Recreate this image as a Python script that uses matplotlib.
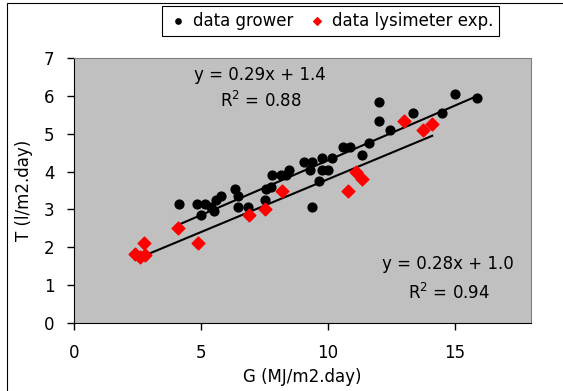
# scatter of transpiration T vs radiation G, grower data and lysimeter data with linear trendlines
import numpy as np
import matplotlib.pyplot as plt
from matplotlib.patches import Rectangle

# data
grower_G = [4.15, 4.85, 5.0, 5.15, 5.4, 5.5, 5.6, 5.8, 6.35, 6.45, 6.45, 6.85,
            7.5, 7.55, 7.75, 7.8, 8.15, 8.35, 8.45, 9.05, 9.3, 9.35, 9.35, 9.65,
            9.75, 9.75, 10.0, 10.15, 10.6, 10.85, 11.35, 11.6, 12.0, 12.0, 12.45,
            13.35, 14.5, 15.0, 15.85]
grower_T = [3.15, 3.15, 2.85, 3.15, 3.05, 2.95, 3.25, 3.35, 3.55, 3.35, 3.05, 3.05,
            3.25, 3.55, 3.6, 3.9, 3.9, 3.9, 4.05, 4.25, 4.05, 4.25, 3.05, 3.75,
            4.35, 4.05, 4.05, 4.35, 4.65, 4.65, 4.45, 4.75, 5.85, 5.35, 5.1,
            5.55, 5.55, 6.05, 5.95]

lysi_G = [2.4, 2.6, 2.8, 2.75, 4.1, 4.9, 6.9, 7.5, 8.2, 10.8, 11.1, 11.35, 13.0, 13.75, 14.1]
lysi_T = [1.82, 1.75, 1.8, 2.1, 2.5, 2.1, 2.85, 3.0, 3.5, 3.5, 4.0, 3.8, 5.35, 5.1, 5.25]

# trendline coefficients as printed on the chart
grower_fit = [0.29, 1.4]
lysi_fit = [0.28, 1.0]
grower_eq = ['y = 0.29x + 1.4', 'R$^2$ = 0.88']
lysi_eq = ['y = 0.28x + 1.0', 'R$^2$ = 0.94']

plt.rcParams['font.family'] = ['DejaVu Sans']
plt.rcParams['mathtext.fontset'] = 'dejavusans'

fig = plt.figure(figsize=(5.63, 3.91), dpi=100)
ax = fig.add_axes([74 / 563, 1 - 322.7 / 391, (531.3 - 74) / 563, (322.7 - 58.3) / 391])
ax.set_facecolor('#C0C0C0')

ax.scatter(grower_G, grower_T, s=40, color='black', zorder=3, label='data grower')
ax.scatter(lysi_G, lysi_T, s=42, marker='D', color='#FF0000', zorder=3,
           label='data lysimeter exp.')

xg = np.array([min(grower_G), max(grower_G)])
ax.plot(xg, np.polyval(grower_fit, xg), color='black', lw=1.5, zorder=2)
xl = np.array([min(lysi_G), max(lysi_G)])
ax.plot(xl, np.polyval(lysi_fit, xl), color='black', lw=1.5, zorder=2)

ax.text(7.3, 6.57, grower_eq[0], ha='center', va='center', fontsize=12)
ax.text(7.35, 5.87, grower_eq[1], ha='center', va='center', fontsize=12)
ax.text(14.72, 1.55, lysi_eq[0], ha='center', va='center', fontsize=12)
ax.text(14.75, 0.8, lysi_eq[1], ha='center', va='center', fontsize=12)

ax.set_xlim(0, 18)
ax.set_ylim(0, 7)
ax.set_xticks([0, 5, 10, 15])
ax.set_yticks(range(8))
ax.tick_params(direction='out', length=5, width=1, labelsize=12, color='black')
ax.tick_params(axis='x', pad=10)
ax.tick_params(axis='y', pad=9)
ax.set_xlabel('G (MJ/m2.day)', fontsize=12, labelpad=5)
ax.set_ylabel('T (l/m2.day)', fontsize=12, labelpad=8)

for side in ['top', 'right']:
    ax.spines[side].set_color('#808080')
for side in ['left', 'bottom']:
    ax.spines[side].set_color('black')

leg = fig.legend(loc='upper center', bbox_to_anchor=(330.5 / 563, 1 - 6 / 391), ncol=2,
                 frameon=True, fancybox=False, edgecolor='black', framealpha=1,
                 fontsize=12, markerscale=0.6, handletextpad=0.3, columnspacing=0.8,
                 handlelength=1.2, borderpad=0.35, borderaxespad=0)
leg.get_frame().set_linewidth(0.8)

# chart border (only left and top visible in the picture)
fig.add_artist(Rectangle((7 / 563, -0.5), 1.2, 1.5 - 3.3 / 391, transform=fig.transFigure,
                         fill=False, edgecolor='black', lw=0.8))

fig.savefig('out.png', dpi=100)
